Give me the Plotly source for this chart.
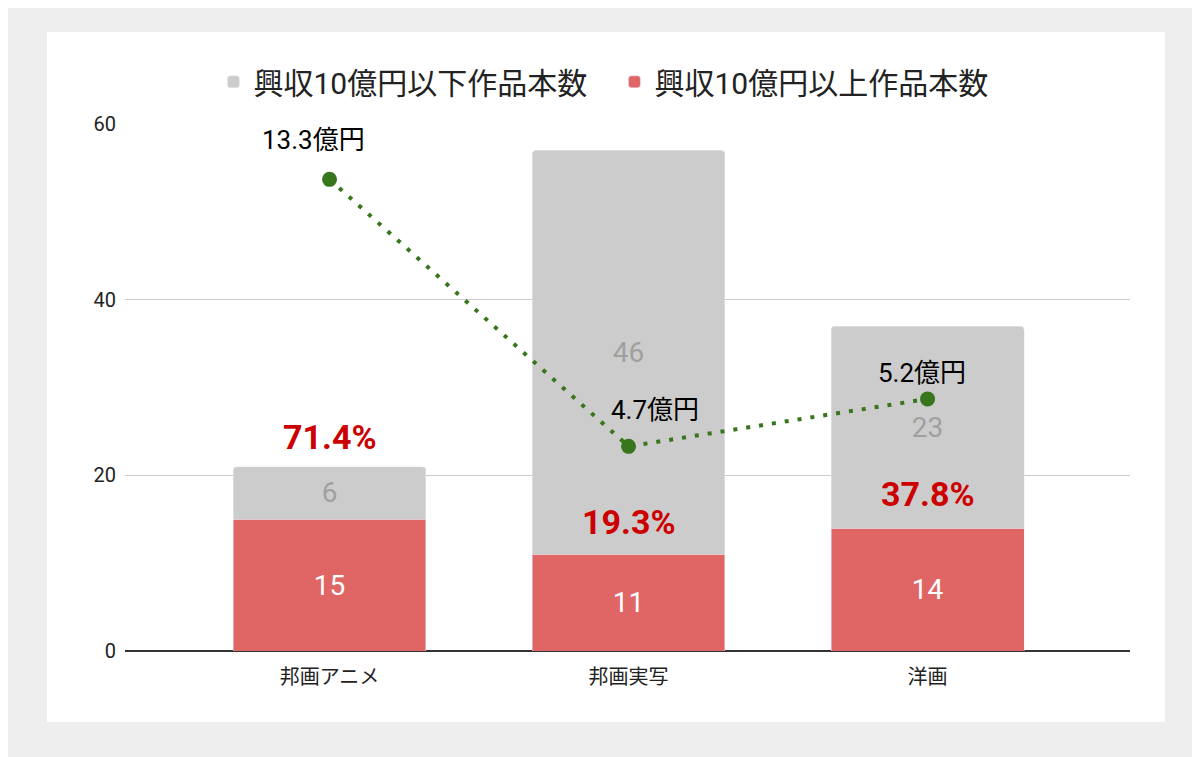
import plotly.graph_objects as go

# chart data
categories = ['邦画アニメ', '邦画実写', '洋画']
over_10oku = [15, 11, 14]
under_10oku = [6, 46, 23]
share_labels = ['71.4%', '19.3%', '37.8%']
share_pos = [24.4, 14.7, 17.9]
avg_labels = ['13.3億円', '4.7億円', '5.2億円']
avg_pos = [53.7, 23.3, 28.7]

FONT = 'Roboto, Noto Sans CJK JP, sans-serif'
RED = '#e06666'
GRAY = '#cccccc'
GREEN = '#38761d'

# pixel nudges for the line labels, as placed in the original
label_dx = [-16, 26, -6]
label_dy = [39, 36, 26]

fig = go.Figure()

fig.add_trace(go.Bar(
    x=categories, y=over_10oku, name='興収10億円以上作品本数',
    marker_color=RED, text=over_10oku, textposition='inside',
    insidetextanchor='middle', textangle=0, constraintext='none',
    textfont=dict(color='white', size=28, family=FONT),
))
fig.add_trace(go.Bar(
    x=categories, y=under_10oku, name='興収10億円以下作品本数',
    marker_color=GRAY, text=under_10oku, textposition='inside',
    insidetextanchor='middle', textangle=0, constraintext='none',
    textfont=dict(color='#a0a0a0', size=28, family=FONT),
))
fig.add_trace(go.Scatter(
    x=categories, y=avg_pos, mode='lines+markers', showlegend=False,
    line=dict(color=GREEN, width=4, dash='4px,9px'),
    marker=dict(color=GREEN, size=15),
))

# average box office labels above the points
for c, y, t, dx, dy in zip(categories, avg_pos, avg_labels, label_dx, label_dy):
    fig.add_annotation(x=c, y=y, text=t, showarrow=False, xshift=dx, yshift=dy,
                       font=dict(size=26, color='black', family=FONT))

# share of big hits
for c, y, t in zip(categories, share_pos, share_labels):
    fig.add_annotation(x=c, y=y, text='<b>' + t + '</b>', showarrow=False,
                       font=dict(size=34, color='#cc0000', family=FONT))

# white card behind the chart (page body adds an 8px margin, so the figure is 8px smaller)
fig.add_shape(type='rect', xref='paper', yref='paper',
              x0=-0.0776, x1=1.0348, y0=-0.1347, y1=1.1746,
              fillcolor='white', line_width=0, layer='below')

fig.update_layout(
    width=1192, height=749,
    barmode='stack', bargap=0.355, barcornerradius=4,
    paper_bgcolor='#eeeeee', plot_bgcolor='white',
    margin=dict(l=117, r=70, t=116, b=106),
    font=dict(family=FONT, color='#222222'),
    legend=dict(orientation='h', x=0.487, xanchor='center', y=1.08, yanchor='middle',
                traceorder='reversed', font=dict(size=30, color='#222222'),
                entrywidth=356, bgcolor='rgba(0,0,0,0)'),
    xaxis=dict(range=[-0.684, 2.677], showgrid=False, tickfont=dict(size=20),
               showline=False, ticks='', ticklabelstandoff=12),
    yaxis=dict(range=[0, 60], tickvals=[0, 20, 40, 60], gridcolor='#cccccc',
               gridwidth=1, zeroline=True, zerolinecolor='#333333', zerolinewidth=1.5,
               tickfont=dict(size=20), ticks='', ticklabelstandoff=8),
)

fig.write_html('out.html')
